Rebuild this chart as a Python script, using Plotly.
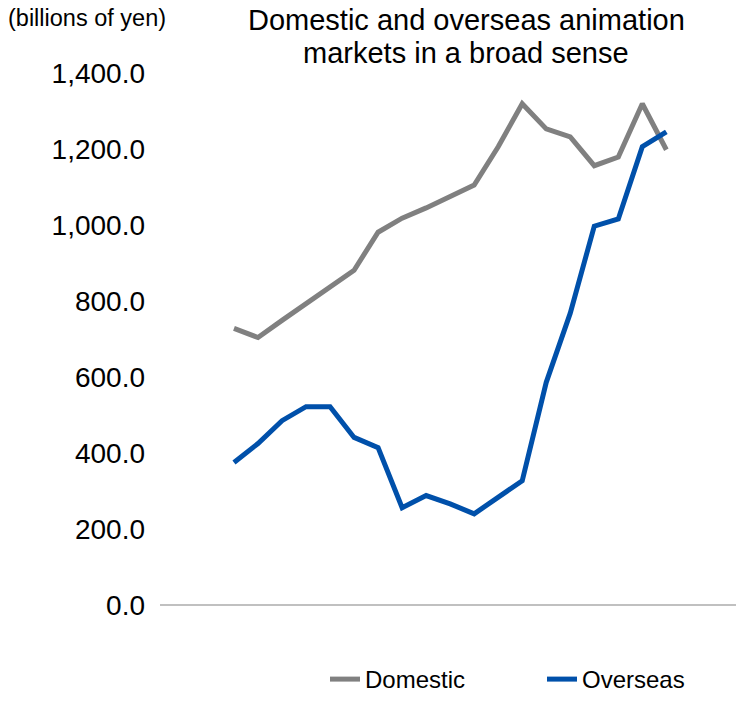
import plotly.graph_objects as go

years = list(range(2002, 2021))
domestic = [728, 704, 749, 792, 836, 881, 981, 1018, 1045, 1076, 1105,
            1206, 1319, 1253, 1232, 1156, 1179, 1319, 1198]
overseas = [375, 425, 485, 522, 522, 441, 414, 256, 288, 266, 240,
            282, 327, 586, 768, 997, 1016, 1206, 1245]
# 19 yearly points (2002-2020); x labels are not shown in the chart
idx = list(range(len(years)))
title_lines = ["Domestic and overseas animation", "markets in a broad sense"]

FONT = "Liberation Sans, Arial, sans-serif"
W, H = 736, 702
L, R, T, B = 160, 0, 73, 97
PW, PH = W - L - R, H - T - B


def px_x(x):
    return (x - L) / PW


def px_y(y):
    return (H - B - y) / PH


fig = go.Figure()
fig.add_trace(go.Scatter(x=idx, y=domestic, name="Domestic", mode="lines",
                         line=dict(color="#808080", width=5)))
fig.add_trace(go.Scatter(x=idx, y=overseas, name="Overseas", mode="lines",
                         line=dict(color="#0050AA", width=5)))

annotations = [dict(text="(billions of yen)", xref="paper", yref="paper",
                    x=px_x(6), y=px_y(18), xanchor="left", yanchor="middle",
                    showarrow=False, font=dict(size=23.5, family=FONT, color="#000"))]
for line, yc in zip(title_lines, [20, 53]):
    annotations.append(dict(text=line, xref="paper", yref="paper",
                            x=px_x(466), y=px_y(yc), xanchor="center", yanchor="middle",
                            showarrow=False, font=dict(size=29, family=FONT, color="#000")))

fig.update_layout(
    width=W, height=H,
    margin=dict(l=L, r=R, t=T, b=B),
    paper_bgcolor="white", plot_bgcolor="white",
    font=dict(family=FONT, color="#000000"),
    showlegend=True,
    legend=dict(orientation="h", xref="container", yref="container",
                x=325/W, xanchor="left", y=0, yanchor="bottom",
                font=dict(size=24, family=FONT), entrywidth=172,
                entrywidthmode="pixels", bgcolor="rgba(0,0,0,0)"),
    xaxis=dict(range=[-3.08, 20.9], showticklabels=False, showgrid=False,
               zeroline=False, showline=False, ticks=""),
    yaxis=dict(range=[0, 1400], tickvals=[0, 200, 400, 600, 800, 1000, 1200, 1400],
               tickformat=",.1f", showgrid=False, zeroline=True,
               zerolinecolor="#C0C0C0", zerolinewidth=2, showline=False,
               ticks="", ticklabelstandoff=14,
               tickfont=dict(size=28, family=FONT, color="#000")),
    annotations=annotations,
)

fig.write_html("out.html")
